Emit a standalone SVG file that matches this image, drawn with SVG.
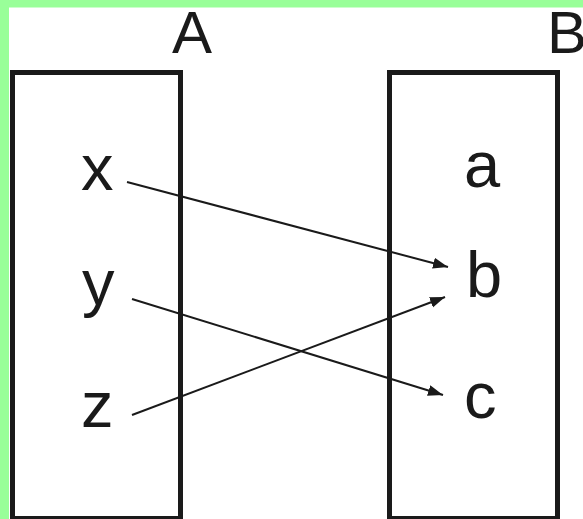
<svg xmlns="http://www.w3.org/2000/svg" width="583" height="519" viewBox="0 0 583 519">
<style>
.box{fill:none;stroke:#1a1a1a;stroke-width:5}
.lbl{font-family:"Liberation Sans",Arial,sans-serif;fill:#1a1a1a}
.big{font-size:60px}
.el{font-size:65px}
.con{stroke:#1a1a1a;stroke-width:2;fill:none;marker-end:url(#ah)}
</style>
<defs>
<marker id="ah" markerUnits="userSpaceOnUse" markerWidth="16" markerHeight="12" refX="15" refY="5.5" orient="auto">
<path d="M0,0 L15,5.5 L0,11 Z" fill="#1a1a1a"/>
</marker>
</defs>
<rect x="0" y="0" width="583" height="519" fill="#fff"/>
<rect x="0" y="0" width="583" height="7.5" fill="#99ff99"/>
<rect x="0" y="0" width="9" height="519" fill="#99ff99"/>
<g id="setA">
<rect class="box" x="12.5" y="72.5" width="168" height="446"/>
<text class="lbl big" x="172" y="53">A</text>
<text class="lbl el" x="81" y="190">x</text>
<text class="lbl el" x="82" y="305">y</text>
<text class="lbl el" x="81" y="427">z</text>
</g>
<g id="setB">
<rect class="box" x="389.5" y="72.5" width="168" height="446"/>
<text class="lbl big" x="547" y="53">B</text>
<text class="lbl el" x="464" y="187">a</text>
<text class="lbl el" x="466" y="297">b</text>
<text class="lbl el" x="464" y="418">c</text>
</g>
<g id="connectors">
<line class="con" x1="127" y1="182" x2="448" y2="267"/>
<line class="con" x1="132" y1="299" x2="443" y2="395"/>
<line class="con" x1="132" y1="415" x2="445" y2="297"/>
</g>
</svg>
